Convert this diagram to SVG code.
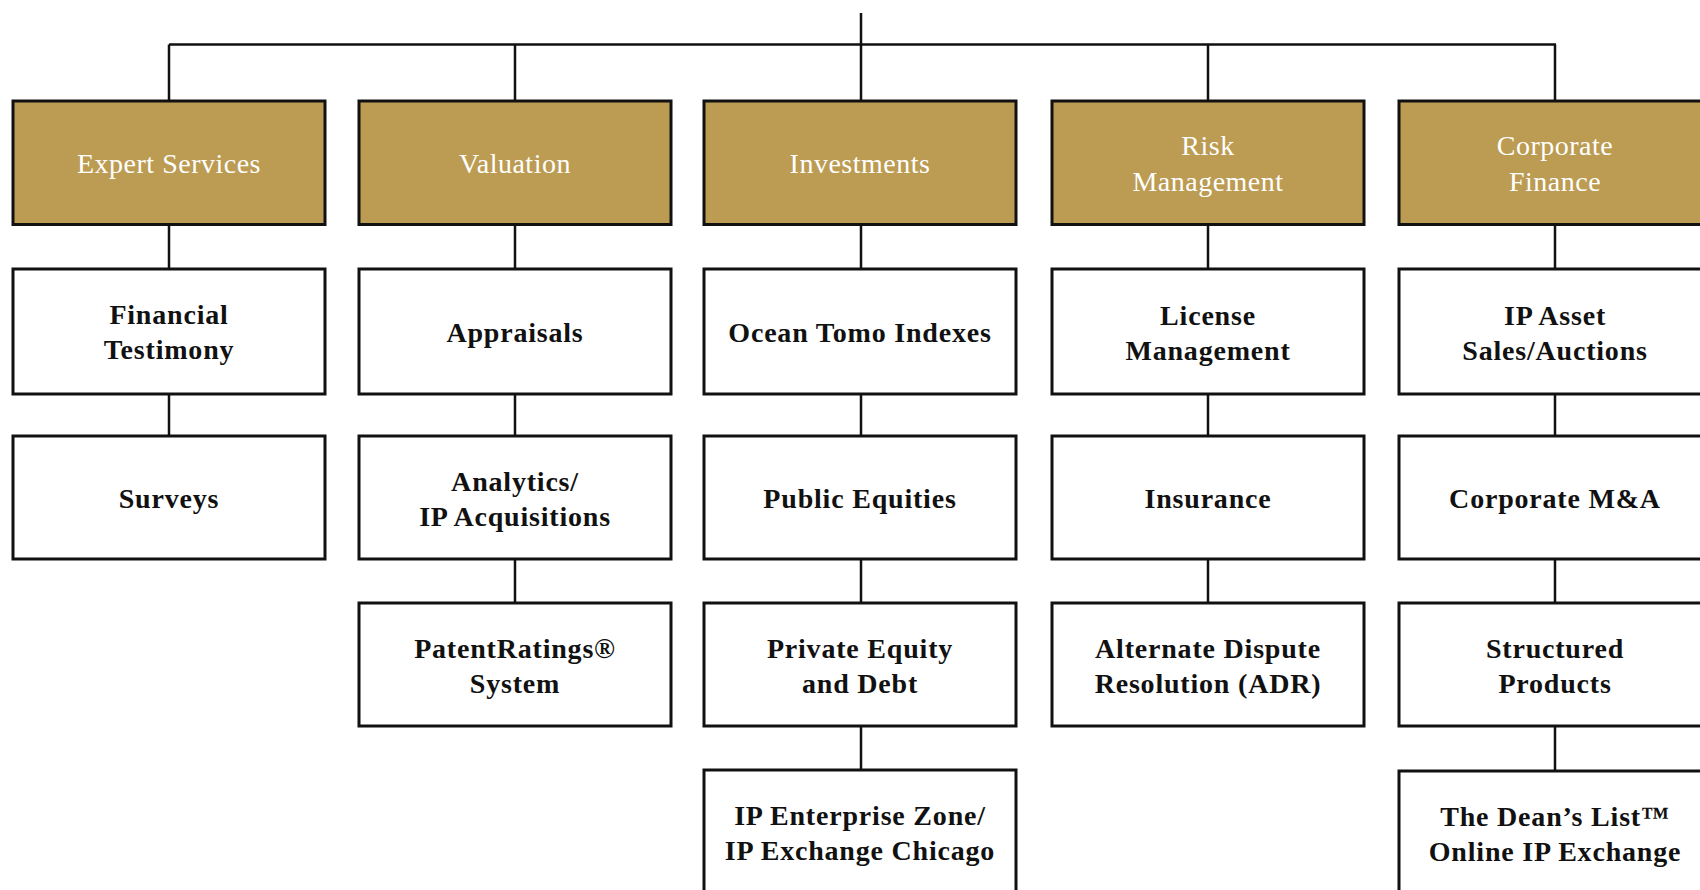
<svg xmlns="http://www.w3.org/2000/svg" width="1700" height="890" viewBox="0 0 1700 890">
<style>
.h{fill:#BC9B52;stroke:#111;stroke-width:3}
.b{fill:#fff;stroke:#111;stroke-width:3}
.ht{font-family:"Liberation Serif",serif;font-size:28px;letter-spacing:0.5px;fill:#fff;text-anchor:middle;dominant-baseline:central}
.bt{font-family:"Liberation Serif",serif;font-size:28px;letter-spacing:0.8px;font-weight:bold;fill:#111;text-anchor:middle;dominant-baseline:central}
.c{stroke:#111;stroke-width:2.5;fill:none}
</style>
<rect width="1700" height="890" fill="#fff"/>
<g id="connectors">
<path class="c" d="M861,13V44.5M169,44.5H1556M169,44.5V101M515,44.5V101M861,44.5V101M1208,44.5V101M1555,44.5V101"/>
<path class="c" d="M169,224.5V269M169,394V436"/>
<path class="c" d="M515,224.5V269M515,394V436M515,559V603"/>
<path class="c" d="M861,224.5V269M861,394V436M861,559V603M861,726V770"/>
<path class="c" d="M1208,224.5V269M1208,394V436M1208,559V603"/>
<path class="c" d="M1555,224.5V269M1555,394V436M1555,559V603M1555,726V770"/>
</g>
<g id="expert-services"><rect class="h" x="13" y="101" width="312" height="123.5"/><text class="ht" x="169" y="163">Expert Services</text></g>
<g id="valuation"><rect class="h" x="359" y="101" width="312" height="123.5"/><text class="ht" x="515" y="163">Valuation</text></g>
<g id="investments"><rect class="h" x="704" y="101" width="312" height="123.5"/><text class="ht" x="860" y="163">Investments</text></g>
<g id="risk-management"><rect class="h" x="1052" y="101" width="312" height="123.5"/><text class="ht" x="1208" y="145">Risk</text><text class="ht" x="1208" y="181">Management</text></g>
<g id="corporate-finance"><rect class="h" x="1399" y="101" width="312" height="123.5"/><text class="ht" x="1555" y="145">Corporate</text><text class="ht" x="1555" y="181">Finance</text></g>

<g id="financial-testimony"><rect class="b" x="13" y="269" width="312" height="125"/><text class="bt" x="169" y="314">Financial</text><text class="bt" x="169" y="349">Testimony</text></g>
<g id="surveys"><rect class="b" x="13" y="436" width="312" height="123"/><text class="bt" x="169" y="498">Surveys</text></g>

<g id="appraisals"><rect class="b" x="359" y="269" width="312" height="125"/><text class="bt" x="515" y="332">Appraisals</text></g>
<g id="analytics"><rect class="b" x="359" y="436" width="312" height="123"/><text class="bt" x="515" y="481">Analytics/</text><text class="bt" x="515" y="516">IP Acquisitions</text></g>
<g id="patentratings"><rect class="b" x="359" y="603" width="312" height="123"/><text class="bt" x="515" y="648">PatentRatings®</text><text class="bt" x="515" y="683">System</text></g>

<g id="ocean-tomo-indexes"><rect class="b" x="704" y="269" width="312" height="125"/><text class="bt" x="860" y="332">Ocean Tomo Indexes</text></g>
<g id="public-equities"><rect class="b" x="704" y="436" width="312" height="123"/><text class="bt" x="860" y="498">Public Equities</text></g>
<g id="private-equity"><rect class="b" x="704" y="603" width="312" height="123"/><text class="bt" x="860" y="648">Private Equity</text><text class="bt" x="860" y="683">and Debt</text></g>
<g id="ip-enterprise-zone"><rect class="b" x="704" y="770" width="312" height="140"/><text class="bt" x="860" y="815">IP Enterprise Zone/</text><text class="bt" x="860" y="850">IP Exchange Chicago</text></g>

<g id="license-management"><rect class="b" x="1052" y="269" width="312" height="125"/><text class="bt" x="1208" y="315">License</text><text class="bt" x="1208" y="350">Management</text></g>
<g id="insurance"><rect class="b" x="1052" y="436" width="312" height="123"/><text class="bt" x="1208" y="498">Insurance</text></g>
<g id="adr"><rect class="b" x="1052" y="603" width="312" height="123"/><text class="bt" x="1208" y="648">Alternate Dispute</text><text class="bt" x="1208" y="683">Resolution (ADR)</text></g>

<g id="ip-asset-sales"><rect class="b" x="1399" y="269" width="312" height="125"/><text class="bt" x="1555" y="315">IP Asset</text><text class="bt" x="1555" y="350">Sales/Auctions</text></g>
<g id="corporate-ma"><rect class="b" x="1399" y="436" width="312" height="123"/><text class="bt" x="1555" y="498">Corporate M&amp;A</text></g>
<g id="structured-products"><rect class="b" x="1399" y="603" width="312" height="123"/><text class="bt" x="1555" y="648">Structured</text><text class="bt" x="1555" y="683">Products</text></g>
<g id="deans-list"><rect class="b" x="1399" y="771" width="312" height="140"/><text class="bt" x="1555" y="816">The Dean’s List™</text><text class="bt" x="1555" y="851">Online IP Exchange</text></g>
</svg>
